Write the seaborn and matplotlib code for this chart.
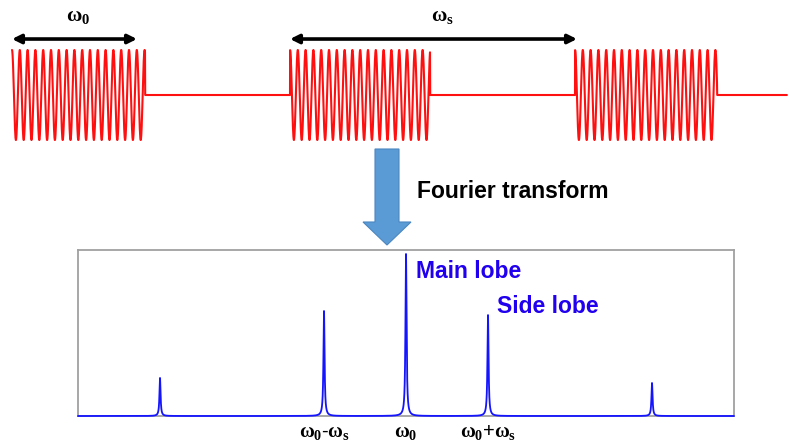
import numpy as np
import matplotlib
matplotlib.use("Agg")
import matplotlib.pyplot as plt
from matplotlib.patches import Polygon
import seaborn as sns

# ---- time-domain pulse train (time in screen-like units) ----
burst_starts = [12, 290, 575]
burst_ends = [145, 430, 717]
carrier_period = 7.8
time_span = [12, 787]
period_arrows = [(12, 137), (290, 577)]
period_labels = [r"$\omega_0$", r"$\omega_s$"]
period_label_x = [78, 442]

# ---- spectrum: peaks at omega_0 + k*omega_s ----
peak_offsets = [-3, -1, 0, 1, 3]
peak_heights = [0.235, 0.648, 1.0, 0.623, 0.204]
peak_width = 0.008
tick_offsets = [-1, 0, 1]
tick_labels = [r"$\omega_0$-$\omega_s$", r"$\omega_0$", r"$\omega_0$+$\omega_s$"]
lobe_labels = ["Main lobe", "Side lobe"]
lobe_label_pos = [(0.12, 0.895), (1.11, 0.679)]

sns.set_theme(style="white")
plt.rcParams["font.family"] = ["Liberation Sans", "DejaVu Sans"]
plt.rcParams["mathtext.fontset"] = "custom"
plt.rcParams["mathtext.rm"] = "Liberation Serif:bold"
plt.rcParams["mathtext.it"] = "Liberation Serif:bold"
plt.rcParams["mathtext.bf"] = "Liberation Serif:bold"

W, H = 789, 443
fig = plt.figure(figsize=(W / 100, H / 100), dpi=100)
fig.patch.set_facecolor("white")

# ---------- pulse train ----------
ax_top = fig.add_axes([0, (H - 150) / H, 1, 150 / H])
t = np.arange(time_span[0], time_span[1], 0.1)
signal = np.zeros_like(t)
for s, e in zip(burst_starts, burst_ends):
    m = (t >= s) & (t <= e)
    signal[m] = np.sin(2 * np.pi * (t[m] - s) / carrier_period + np.pi / 2)
sns.lineplot(x=t, y=signal, ax=ax_top, color="#ff1010", lw=1.5,
             estimator=None, sort=False, legend=False)
ax_top.set_xlim(0, W)
ax_top.set_ylim(-1.222, 2.111)
ax_top.axis("off")

for (a, b), lab, lx in zip(period_arrows, period_labels, period_label_x):
    ax_top.annotate("", xy=(a, 1.244), xytext=(b, 1.244),
                    arrowprops=dict(arrowstyle="<|-|>", color="black", lw=2.6,
                                    mutation_scale=13, shrinkA=0, shrinkB=0))
    ax_top.text(lx, 1.75, lab, ha="center", va="center", fontsize=15,
                color="black")

# ---------- spectrum ----------
ax_sp = fig.add_axes([78 / W, 27 / H, 656 / W, 166 / H])
f = np.linspace(-4, 4, 16001)
amp = np.zeros_like(f)
for c, h in zip(peak_offsets, peak_heights):
    amp += h * peak_width**2 / ((f - c) ** 2 + peak_width**2)
sns.lineplot(x=f, y=amp, ax=ax_sp, color="#1414ff", lw=1.3,
             estimator=None, sort=False, legend=False)
for ln in ax_sp.lines:
    ln.set_clip_on(False)
    ln.set_zorder(5)
ax_sp.set_xlim(-4, 4)
ax_sp.set_ylim(0, 166 / 162)
ax_sp.set_yticks([])
ax_sp.set_xticks(tick_offsets)
ax_sp.set_xticklabels(tick_labels, fontsize=14.5, color="black")
ax_sp.tick_params(axis="x", length=0, pad=5)
ax_sp.set_facecolor("white")
for sp in ax_sp.spines.values():
    sp.set_color("#a0a0a0")
    sp.set_linewidth(1.3)
    sp.set_visible(True)
for lab, (lx, ly) in zip(lobe_labels, lobe_label_pos):
    ax_sp.text(lx, ly, lab, ha="left", va="center", fontsize=16.5,
               fontweight="bold", color="#2000ee")

# ---------- "Fourier transform" block arrow ----------
ax_ov = fig.add_axes([0, 0, 1, 1], facecolor="none")
ax_ov.set_xlim(0, W)
ax_ov.set_ylim(H, 0)
ax_ov.axis("off")
arrow = Polygon([(375, 149), (399, 149), (399, 222), (411, 222), (387, 245),
                 (363, 222), (375, 222)], closed=True,
                facecolor="#5b9bd5", edgecolor="#4a86c0", lw=0.8)
ax_ov.add_patch(arrow)
ax_ov.text(417, 191, "Fourier transform", ha="left", va="center",
           fontsize=16.5, fontweight="bold", color="black")

fig.savefig("out.png", dpi=100, facecolor="white")
